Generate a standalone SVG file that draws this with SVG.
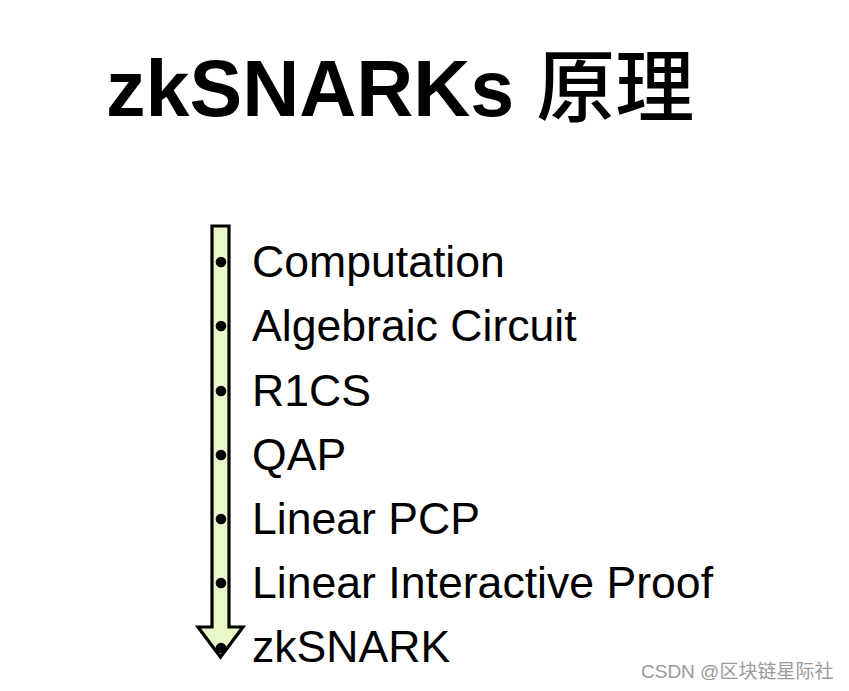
<svg xmlns="http://www.w3.org/2000/svg" width="849" height="691" viewBox="0 0 849 691">
<style>
.t{font-family:"Liberation Sans","Noto Sans CJK SC",Arial,sans-serif;font-size:44.6px;fill:#000}
.dot{fill:#000}
</style>
<rect width="849" height="691" fill="#fff"/>
<g id="title">
<text x="106" y="116" font-family="'Liberation Sans','Noto Sans CJK SC',sans-serif" font-size="79" font-weight="bold" fill="#000">zkSNARKs <tspan font-family="'Noto Sans CJK SC',sans-serif" font-weight="500" font-size="79">原理</tspan></text>
</g>
<g id="connectors">
<polygon points="212,226 229,226 229,627 243,627 220.5,657 198,627 212,627" fill="#e8f8c6" stroke="#000" stroke-width="3.2" stroke-linejoin="miter"/>
</g>
<g id="node-computation"><circle class="dot" cx="221" cy="262" r="5.3"/><text class="t" x="252" y="277">Computation</text></g>
<g id="node-circuit"><circle class="dot" cx="221" cy="326" r="5.3"/><text class="t" x="252" y="341">Algebraic Circuit</text></g>
<g id="node-r1cs"><circle class="dot" cx="221" cy="391" r="5.3"/><text class="t" x="252" y="406">R1CS</text></g>
<g id="node-qap"><circle class="dot" cx="221" cy="455" r="5.3"/><text class="t" x="252" y="470">QAP</text></g>
<g id="node-lpcp"><circle class="dot" cx="221" cy="519" r="5.3"/><text class="t" x="252" y="534">Linear PCP</text></g>
<g id="node-lip"><circle class="dot" cx="221" cy="583" r="5.3"/><text class="t" x="252" y="598">Linear Interactive Proof</text></g>
<g id="node-zksnark"><circle class="dot" cx="221" cy="648" r="5.3"/><text class="t" x="252" y="662">zkSNARK</text></g>
<g id="watermark">
<text x="641" y="678" font-family="'Liberation Sans','Noto Sans CJK SC',sans-serif" font-size="19" fill="#9a9a9a">CSDN @区块链星际社</text>
</g>
</svg>
